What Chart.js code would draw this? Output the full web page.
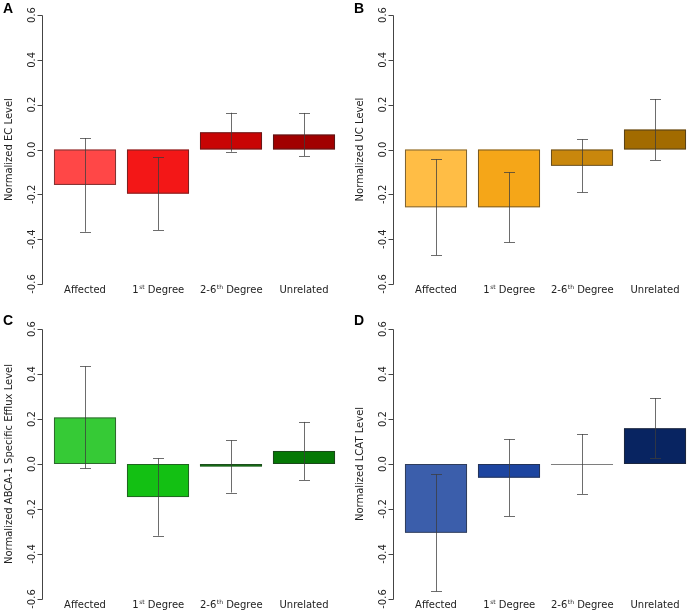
<!DOCTYPE html>
<html>
<head>
<meta charset="utf-8">
<script src="https://cdn.jsdelivr.net/npm/chart.js@4/dist/chart.umd.min.js"></script>
<style>
  html, body { margin: 0; padding: 0; background: #fff; }
  #page { position: relative; width: 687px; height: 611px; overflow: hidden; background: #fff; }
  #page canvas { position: absolute; }
</style>
</head>
<body>
<div id="page">
  <canvas id="chartA" width="345" height="305" style="left:0px;top:0px"></canvas>
  <canvas id="chartB" width="347" height="305" style="left:345px;top:0px"></canvas>
  <canvas id="chartC" width="345" height="306" style="left:0px;top:305px"></canvas>
  <canvas id="chartD" width="347" height="306" style="left:345px;top:305px"></canvas>
</div>
<script>
// categories and tick labels
var categories = ["Affected", "1st Degree", "2-6th Degree", "Unrelated"];
var yTicks = [-0.6, -0.4, -0.2, 0.0, 0.2, 0.4, 0.6];

// A - EC
var ecMean = [-0.158, -0.197, 0.077, 0.067];
var ecErr = [0.209, 0.162, 0.087, 0.096];
// B - UC
var ucMean = [-0.258, -0.258, -0.073, 0.089];
var ucErr = [0.214, 0.156, 0.118, 0.136];
// C - ABCA-1 specific efflux
var abcaMean = [0.207, -0.147, -0.011, 0.058];
var abcaErr = [0.227, 0.172, 0.116, 0.129];
// D - LCAT
var lcatMean = [-0.306, -0.061, 0.0, 0.159];
var lcatErr = [0.26, 0.171, 0.133, 0.134];

var redColors = ["#ff4747", "#f31717", "#c80404", "#a10000"];
var orangeColors = ["#ffbd45", "#f5a618", "#c9870c", "#a26b00"];
var greenColors = ["#36ca36", "#13c013", "#0d8a0d", "#057805"];
var blueColors = ["#3b5eab", "#1d45a0", "#1a3a80", "#082461"];

var FONT = '"DejaVu Sans", sans-serif';

// draws bar outlines, error bars, y axis, category labels and panel letter
var decorPlugin = {
  id: "decor",
  afterDatasetsDraw: function (chart) {
    var ctx = chart.ctx;
    var xs = chart.scales.x;
    var ys = chart.scales.y;
    var opts = chart.options.plugins.decor;
    var area = chart.chartArea;
    var meta = chart.getDatasetMeta(0);

    ctx.save();
    // bar outlines, drawn just inside the filled area
    ctx.lineWidth = 1;
    ctx.strokeStyle = "rgba(40,40,40,0.6)";
    meta.data.forEach(function (bar) {
      var p = bar.getProps(["x", "y", "base", "width"], true);
      var l = p.x - p.width / 2;
      var t = Math.min(p.y, p.base);
      var h = Math.abs(p.base - p.y);
      if (h < 1) {
        ctx.beginPath();
        ctx.moveTo(l, Math.round(p.base) + 0.5);
        ctx.lineTo(l + p.width, Math.round(p.base) + 0.5);
        ctx.stroke();
      } else {
        ctx.strokeRect(l + 0.5, t + 0.5, p.width - 1, h - 1);
      }
    });

    // error bars
    ctx.strokeStyle = "rgba(60,60,60,0.75)";
    meta.data.forEach(function (bar, i) {
      var m = opts.mean[i], e = opts.err[i];
      var cx = Math.round(xs.getPixelForValue(i)) + 0.5;
      var top = ys.getPixelForValue(m + e);
      var bot = ys.getPixelForValue(m - e);
      ctx.beginPath();
      ctx.moveTo(cx, top);
      ctx.lineTo(cx, bot);
      ctx.moveTo(cx - 5.5, Math.round(top) + 0.5);
      ctx.lineTo(cx + 5.5, Math.round(top) + 0.5);
      ctx.moveTo(cx - 5.5, Math.round(bot) + 0.5);
      ctx.lineTo(cx + 5.5, Math.round(bot) + 0.5);
      ctx.stroke();
    });

    // y axis
    var axisX = Math.round(area.left - 6.5) + 0.5;
    var yTop = ys.getPixelForValue(yTicks[yTicks.length - 1]);
    var yBot = ys.getPixelForValue(yTicks[0]);
    ctx.strokeStyle = "#444";
    ctx.beginPath();
    ctx.moveTo(axisX, Math.round(yTop) + 0.5);
    ctx.lineTo(axisX, Math.round(yBot) + 0.5);
    yTicks.forEach(function (v) {
      var py = Math.round(ys.getPixelForValue(v)) + 0.5;
      ctx.moveTo(axisX, py);
      ctx.lineTo(axisX - 5, py);
    });
    ctx.stroke();

    ctx.fillStyle = "#222";
    ctx.font = "10px " + FONT;
    ctx.textAlign = "center";
    ctx.textBaseline = "alphabetic";
    yTicks.forEach(function (v) {
      var py = ys.getPixelForValue(v);
      ctx.save();
      ctx.translate(axisX - 7.5, py);
      ctx.rotate(-Math.PI / 2);
      ctx.fillText(v.toFixed(1), 0, 0);
      ctx.restore();
    });

    // y title
    ctx.save();
    ctx.translate(axisX - 30.5, (yTop + yBot) / 2);
    ctx.rotate(-Math.PI / 2);
    ctx.fillText(opts.title, 0, 0);
    ctx.restore();

    // category labels with superscripts
    ctx.textBaseline = "middle";
    var labY = area.bottom + 6.5;
    categories.forEach(function (lab, i) {
      var cx = xs.getPixelForValue(i);
      var m = lab.match(/^(.*?\d)(st|th)(.*)$/);
      if (!m) {
        ctx.font = "10px " + FONT;
        ctx.textAlign = "center";
        ctx.fillText(lab, cx, labY);
        return;
      }
      ctx.font = "10px " + FONT;
      var w1 = ctx.measureText(m[1]).width;
      var w3 = ctx.measureText(m[3]).width;
      ctx.font = "6px " + FONT;
      var w2 = ctx.measureText(m[2]).width;
      var x0 = cx - (w1 + w2 + w3) / 2;
      ctx.textAlign = "left";
      ctx.font = "10px " + FONT;
      ctx.fillText(m[1], x0, labY);
      ctx.font = "6px " + FONT;
      ctx.fillText(m[2], x0 + w1 + 0.5, labY - 3);
      ctx.font = "10px " + FONT;
      ctx.fillText(m[3], x0 + w1 + w2 + 0.5, labY);
    });

    // panel letter
    ctx.font = 'bold 14px "Liberation Sans", Arial, sans-serif';
    ctx.textAlign = "left";
    ctx.textBaseline = "alphabetic";
    ctx.fillStyle = "#000";
    ctx.fillText(opts.letter, axisX - 39.5, area.top + opts.letterDy);
    ctx.restore();
  }
};

function makePanel(id, letter, title, mean, err, colors, pad, letterDy) {
  new Chart(document.getElementById(id), {
    type: "bar",
    data: {
      labels: categories,
      datasets: [{
        data: mean,
        backgroundColor: colors,
        borderWidth: 0,
        barPercentage: 0.85,
        categoryPercentage: 1.0
      }]
    },
    options: {
      responsive: false,
      animation: false,
      devicePixelRatio: 1,
      layout: { padding: pad },
      scales: {
        x: { display: false },
        y: { display: false, min: -0.6, max: 0.6 }
      },
      plugins: {
        legend: { display: false },
        tooltip: { enabled: false },
        decor: { letter: letter, title: title, mean: mean, err: err, letterDy: letterDy }
      }
    },
    plugins: [decorPlugin]
  });
}

makePanel("chartA", "A", "Normalized EC Level", ecMean, ecErr, redColors,
  { left: 48.5, right: 4.5, top: 15, bottom: 21 }, -2);
makePanel("chartB", "B", "Normalized UC Level", ucMean, ucErr, orangeColors,
  { left: 54.5, right: 0.5, top: 15, bottom: 21 }, -2);
makePanel("chartC", "C", "Normalized ABCA-1 Specific Efflux Level", abcaMean, abcaErr, greenColors,
  { left: 48.5, right: 4.5, top: 24, bottom: 12 }, -4);
makePanel("chartD", "D", "Normalized LCAT Level", lcatMean, lcatErr, blueColors,
  { left: 54.5, right: 0.5, top: 24, bottom: 12 }, -4);
</script>
</body>
</html>
